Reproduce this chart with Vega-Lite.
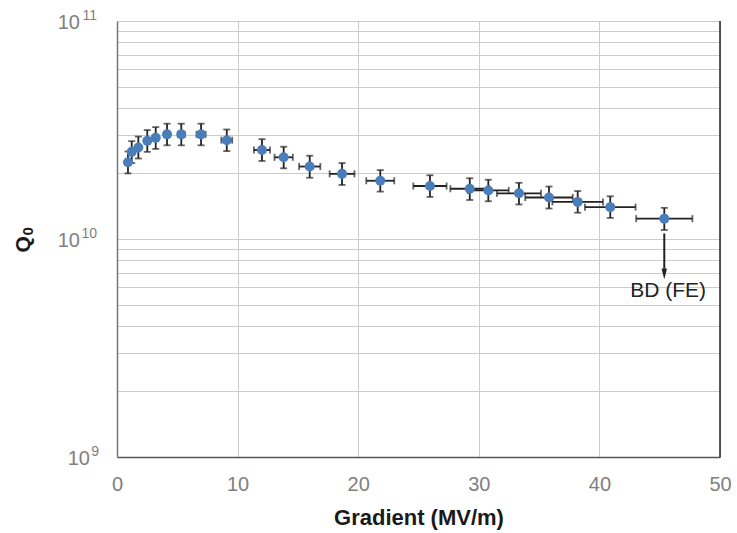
{
  "$schema": "https://vega.github.io/schema/vega-lite/v6.json",
  "width": 603,
  "height": 436,
  "autosize": "none",
  "padding": {"left": 117, "top": 21, "right": 17, "bottom": 76},
  "background": "white",
  "config": {
    "view": {"stroke": null},
    "font": "Liberation Sans",
    "axis": {"labelFont": "Liberation Sans", "titleFont": "Liberation Sans"}
  },
  "datasets": {
    "pts": [
      {"x": 0.91, "q": 2.25e10, "xlo": 0.86, "xhi": 0.96, "qlo": 2.0e10, "qhi": 2.52e10},
      {"x": 1.22, "q": 2.51e10, "xlo": 1.15, "xhi": 1.29, "qlo": 2.23e10, "qhi": 2.81e10},
      {"x": 1.77, "q": 2.63e10, "xlo": 1.67, "xhi": 1.87, "qlo": 2.34e10, "qhi": 2.95e10},
      {"x": 2.51, "q": 2.82e10, "xlo": 2.37, "xhi": 2.65, "qlo": 2.51e10, "qhi": 3.16e10},
      {"x": 3.21, "q": 2.91e10, "xlo": 3.03, "xhi": 3.39, "qlo": 2.59e10, "qhi": 3.26e10},
      {"x": 4.15, "q": 3.02e10, "xlo": 3.92, "xhi": 4.38, "qlo": 2.69e10, "qhi": 3.38e10},
      {"x": 5.33, "q": 3.02e10, "xlo": 5.04, "xhi": 5.62, "qlo": 2.69e10, "qhi": 3.38e10},
      {"x": 6.97, "q": 3.02e10, "xlo": 6.59, "xhi": 7.35, "qlo": 2.69e10, "qhi": 3.38e10},
      {"x": 9.10, "q": 2.84e10, "xlo": 8.65, "xhi": 9.55, "qlo": 2.53e10, "qhi": 3.18e10},
      {"x": 12.02, "q": 2.56e10, "xlo": 11.35, "xhi": 12.69, "qlo": 2.28e10, "qhi": 2.87e10},
      {"x": 13.82, "q": 2.37e10, "xlo": 13.06, "xhi": 14.58, "qlo": 2.11e10, "qhi": 2.65e10},
      {"x": 15.98, "q": 2.15e10, "xlo": 15.10, "xhi": 16.86, "qlo": 1.91e10, "qhi": 2.41e10},
      {"x": 18.66, "q": 1.99e10, "xlo": 17.63, "xhi": 19.69, "qlo": 1.77e10, "qhi": 2.23e10},
      {"x": 21.83, "q": 1.85e10, "xlo": 20.67, "xhi": 22.99, "qlo": 1.65e10, "qhi": 2.07e10},
      {"x": 25.95, "q": 1.75e10, "xlo": 24.57, "xhi": 27.33, "qlo": 1.56e10, "qhi": 1.96e10},
      {"x": 29.25, "q": 1.70e10, "xlo": 27.64, "xhi": 30.86, "qlo": 1.51e10, "qhi": 1.90e10},
      {"x": 30.79, "q": 1.67e10, "xlo": 29.10, "xhi": 32.48, "qlo": 1.49e10, "qhi": 1.87e10},
      {"x": 33.33, "q": 1.62e10, "xlo": 31.50, "xhi": 35.16, "qlo": 1.44e10, "qhi": 1.81e10},
      {"x": 35.82, "q": 1.55e10, "xlo": 33.85, "xhi": 37.79, "qlo": 1.38e10, "qhi": 1.74e10},
      {"x": 38.20, "q": 1.48e10, "xlo": 36.10, "xhi": 40.30, "qlo": 1.32e10, "qhi": 1.66e10},
      {"x": 40.90, "q": 1.40e10, "xlo": 38.80, "xhi": 43.00, "qlo": 1.25e10, "qhi": 1.57e10},
      {"x": 45.38, "q": 1.24e10, "xlo": 43.05, "xhi": 47.71, "qlo": 1.10e10, "qhi": 1.39e10}
    ],
    "arrow": [{"x": 45.38, "top": 1.06e10, "bottom": 7.3e9, "head": 6.92e9}],
    "label": [{"x": 45.7, "q": 5.77e9, "text": "BD (FE)"}],
    "border": [{"x": 50}],
    "ylab2": [{"v": 1e11, "base": "10", "exp": "11"}, {"v": 1e10, "base": "10", "exp": "10"}],
    "ylab1": [{"v": 1e9, "base": "10", "exp": "9"}]
  },
  "layer": [
    {
      "data": {"name": "pts"},
      "mark": {"type": "rule", "color": "#222222", "strokeWidth": 1.8},
      "encoding": {
        "x": {
          "field": "x", "type": "quantitative",
          "scale": {"domain": [0, 50], "nice": false, "zero": false},
          "axis": {
            "values": [0, 10, 20, 30, 40, 50],
            "title": "Gradient (MV/m)",
            "titleFontSize": 22, "titleFontWeight": "bold", "titleColor": "#1a1a1a",
            "titlePadding": 13,
            "labelFontSize": 20, "labelColor": "#808080", "labelPadding": 17,
            "labelFlush": false,
            "ticks": false,
            "domainColor": "#555555", "domainWidth": 1.5,
            "grid": true, "gridColor": "#cccccc", "gridWidth": 1
          }
        },
        "y": {
          "field": "qlo", "type": "quantitative",
          "scale": {"type": "log", "domain": [1e9, 1e11], "nice": false},
          "axis": {
            "values": [1e9, 2e9, 3e9, 4e9, 5e9, 6e9, 7e9, 8e9, 9e9, 1e10, 2e10, 3e10, 4e10, 5e10, 6e10, 7e10, 8e10, 9e10, 1e11],
            "labels": false,
            "title": null,
            "ticks": false,
            "domainColor": "#777777", "domainWidth": 1.5,
            "grid": true, "gridColor": "#cccccc", "gridWidth": 1
          }
        },
        "y2": {"field": "qhi"}
      }
    },
    {
      "data": {"name": "border"},
      "mark": {"type": "rule", "color": "#222222", "strokeWidth": 1.5},
      "encoding": {"x": {"field": "x", "type": "quantitative"}}
    },
    {
      "data": {"name": "pts"},
      "mark": {"type": "tick", "orient": "horizontal", "color": "#222222", "size": 7, "thickness": 1.8},
      "encoding": {
        "x": {"field": "x", "type": "quantitative"},
        "y": {"field": "qlo", "type": "quantitative"}
      }
    },
    {
      "data": {"name": "pts"},
      "mark": {"type": "tick", "orient": "horizontal", "color": "#222222", "size": 7, "thickness": 1.8},
      "encoding": {
        "x": {"field": "x", "type": "quantitative"},
        "y": {"field": "qhi", "type": "quantitative"}
      }
    },
    {
      "data": {"name": "pts"},
      "mark": {"type": "rule", "color": "#222222", "strokeWidth": 1.8},
      "encoding": {
        "x": {"field": "xlo", "type": "quantitative"},
        "x2": {"field": "xhi"},
        "y": {"field": "q", "type": "quantitative"}
      }
    },
    {
      "data": {"name": "pts"},
      "mark": {"type": "tick", "orient": "vertical", "color": "#222222", "size": 7, "thickness": 1.8},
      "encoding": {
        "x": {"field": "xlo", "type": "quantitative"},
        "y": {"field": "q", "type": "quantitative"}
      }
    },
    {
      "data": {"name": "pts"},
      "mark": {"type": "tick", "orient": "vertical", "color": "#222222", "size": 7, "thickness": 1.8},
      "encoding": {
        "x": {"field": "xhi", "type": "quantitative"},
        "y": {"field": "q", "type": "quantitative"}
      }
    },
    {
      "data": {"name": "pts"},
      "mark": {"type": "point", "filled": true, "shape": "circle", "size": 100, "color": "#4a7ebb", "opacity": 1, "strokeWidth": 0},
      "encoding": {
        "x": {"field": "x", "type": "quantitative"},
        "y": {"field": "q", "type": "quantitative"}
      }
    },
    {
      "data": {"name": "arrow"},
      "mark": {"type": "rule", "color": "#222222", "strokeWidth": 2},
      "encoding": {
        "x": {"field": "x", "type": "quantitative"},
        "y": {"field": "top", "type": "quantitative"},
        "y2": {"field": "bottom"}
      }
    },
    {
      "data": {"name": "arrow"},
      "mark": {"type": "point", "filled": true, "shape": "M-0.5,-1L0.5,-1L0,1Z", "size": 120, "color": "#222222", "opacity": 1, "strokeWidth": 0},
      "encoding": {
        "x": {"field": "x", "type": "quantitative"},
        "y": {"field": "head", "type": "quantitative"}
      }
    },
    {
      "data": {"name": "label"},
      "mark": {"type": "text", "fontSize": 21, "color": "#222222", "align": "center", "baseline": "middle", "font": "Liberation Sans"},
      "encoding": {
        "x": {"field": "x", "type": "quantitative"},
        "y": {"field": "q", "type": "quantitative"},
        "text": {"field": "text"}
      }
    },
    {
      "data": {"name": "ylab2"},
      "mark": {"type": "text", "fontSize": 20, "color": "#808080", "align": "right", "baseline": "middle", "dx": -37, "dy": 2, "clip": false, "font": "Liberation Sans"},
      "encoding": {
        "x": {"datum": 0, "type": "quantitative"},
        "y": {"field": "v", "type": "quantitative"},
        "text": {"field": "base"}
      }
    },
    {
      "data": {"name": "ylab2"},
      "mark": {"type": "text", "fontSize": 14, "color": "#808080", "align": "right", "baseline": "middle", "dx": -20, "dy": -5, "clip": false, "font": "Liberation Sans"},
      "encoding": {
        "x": {"datum": 0, "type": "quantitative"},
        "y": {"field": "v", "type": "quantitative"},
        "text": {"field": "exp"}
      }
    },
    {
      "data": {"name": "ylab1"},
      "mark": {"type": "text", "fontSize": 20, "color": "#808080", "align": "right", "baseline": "middle", "dx": -27, "dy": 2, "clip": false, "font": "Liberation Sans"},
      "encoding": {
        "x": {"datum": 0, "type": "quantitative"},
        "y": {"field": "v", "type": "quantitative"},
        "text": {"field": "base"}
      }
    },
    {
      "data": {"name": "ylab1"},
      "mark": {"type": "text", "fontSize": 14, "color": "#808080", "align": "right", "baseline": "middle", "dx": -18, "dy": -5, "clip": false, "font": "Liberation Sans"},
      "encoding": {
        "x": {"datum": 0, "type": "quantitative"},
        "y": {"field": "v", "type": "quantitative"},
        "text": {"field": "exp"}
      }
    },
    {
      "data": {"values": [{"t": "Q"}]},
      "mark": {"type": "text", "fontSize": 21, "fontWeight": "bold", "color": "#1a1a1a", "align": "center", "baseline": "middle", "angle": 270, "dy": -93, "clip": false, "font": "Liberation Sans"},
      "encoding": {
        "x": {"datum": 0, "type": "quantitative"},
        "y": {"datum": 9.46e9, "type": "quantitative"},
        "text": {"field": "t"}
      }
    },
    {
      "data": {"values": [{"t": "0"}]},
      "mark": {"type": "text", "fontSize": 15, "fontWeight": "bold", "color": "#1a1a1a", "align": "center", "baseline": "middle", "angle": 270, "dy": -89, "clip": false, "font": "Liberation Sans"},
      "encoding": {
        "x": {"datum": 0, "type": "quantitative"},
        "y": {"datum": 1.085e10, "type": "quantitative"},
        "text": {"field": "t"}
      }
    }
  ]
}
